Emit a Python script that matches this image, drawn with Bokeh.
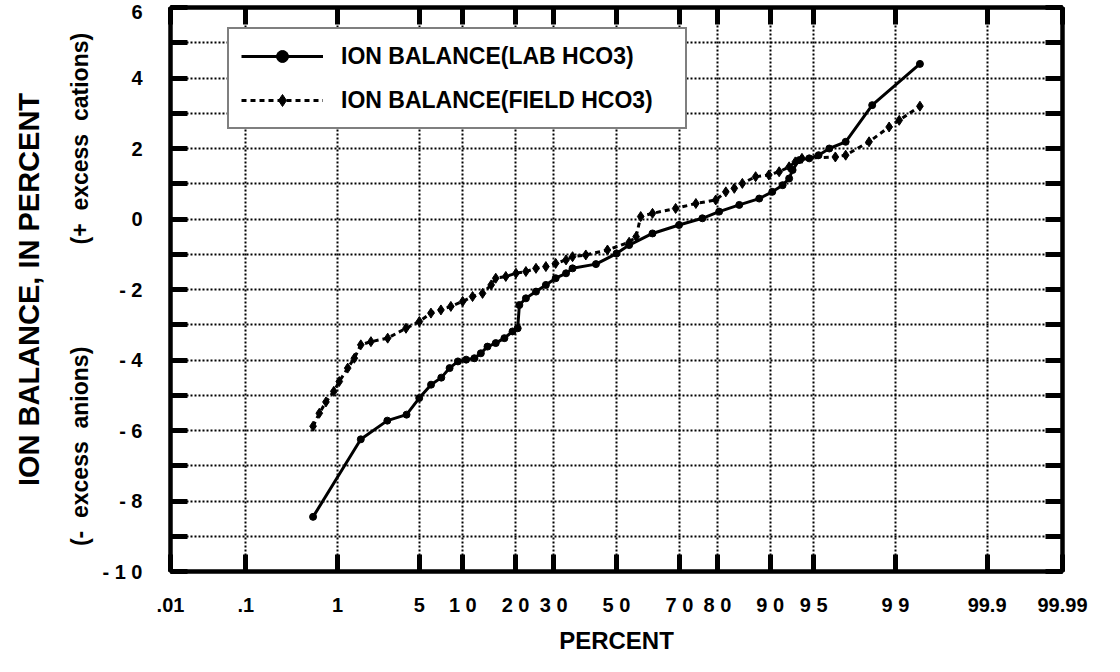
from statistics import NormalDist
from bokeh.plotting import figure
from bokeh.models import Range1d, FixedTicker, LinearAxis, Legend, LegendItem
from bokeh.embed import file_html
from bokeh.resources import INLINE

# ---------------- data ----------------
tick_pcts = [0.01, 0.1, 1, 5, 10, 20, 30, 50, 70, 80, 90, 95, 99, 99.9, 99.99]
tick_labels = [".01", ".1", "1", "5", "1 0", "2 0", "3 0", "5 0", "7 0", "8 0",
               "9 0", "9 5", "9 9", "99.9", "99.99"]
y_major = [-10, -8, -6, -4, -2, 0, 2, 4, 6]
y_minor = [-9, -7, -5, -3, -1, 1, 3, 5]
y_tick_labels = ["- 1 0", "- 8", "- 6", "- 4", "- 2", "0", "2", "4", "6"]

lab_pct = [0.57, 1.65, 2.8, 4.0, 5.0, 6.1, 7.2, 8.2, 9.3, 10.5,
           11.8, 12.9, 14.1, 15.7, 17.5, 19.3, 20.5, 20.9, 22.5, 25.1,
           27.8, 30.6, 33.7, 35.7, 43.2, 50.0, 54.2, 61.8, 69.9, 76.3,
           80.4, 84.7, 88.3, 90.3, 91.7, 92.5, 92.9, 93.6, 94.6, 95.4,
           96.2, 97.2, 98.35, 99.43]
lab_val = [-8.45, -6.25, -5.72, -5.55, -5.08, -4.70, -4.50, -4.23, -4.04, -3.99,
           -3.95, -3.81, -3.62, -3.52, -3.38, -3.19, -3.10, -2.44, -2.25, -2.06,
           -1.87, -1.68, -1.54, -1.40, -1.28, -0.98, -0.74, -0.41, -0.17, 0.02,
           0.21, 0.40, 0.58, 0.77, 0.96, 1.15, 1.39, 1.67, 1.72, 1.81,
           2.00, 2.19, 3.23, 4.40]

field_pct = [0.57, 0.66, 0.77, 0.92, 1.04, 1.25, 1.44, 1.65, 2.03, 2.82,
             3.96, 5.01, 6.09, 7.16, 8.36, 9.98, 11.5, 13.2, 14.8, 15.7,
             17.8, 20.1, 22.5, 25.1, 27.8, 30.6, 33.7, 35.7, 39.9, 47.0,
             54.2, 56.5, 58.0, 61.8, 68.9, 74.6, 79.6, 81.9, 83.7, 85.3,
             87.7, 89.8, 91.25, 92.5, 93.2, 93.9, 96.6, 97.2, 98.24, 98.85,
             99.08, 99.43]
field_val = [-5.88, -5.51, -5.19, -4.89, -4.61, -4.23, -3.95, -3.57, -3.48, -3.38,
             -3.10, -2.91, -2.67, -2.58, -2.48, -2.34, -2.20, -2.11, -1.87, -1.68,
             -1.63, -1.54, -1.49, -1.40, -1.35, -1.26, -1.16, -1.07, -1.02, -0.88,
             -0.66, -0.50, 0.07, 0.16, 0.30, 0.44, 0.54, 0.77, 0.87, 1.01,
             1.20, 1.25, 1.34, 1.48, 1.62, 1.72, 1.76, 1.81, 2.19, 2.61,
             2.80, 3.20]

series_names = ["ION BALANCE(LAB HCO3)", "ION BALANCE(FIELD HCO3)"]

# ---------------- normal-probability scale ----------------
nd = NormalDist()


def prob_scale(pcts):
    return [nd.inv_cdf(p / 100.0) for p in pcts]


tick_z = prob_scale(tick_pcts)
lab_z = prob_scale(lab_pct)
field_z = prob_scale(field_pct)

FONT = "Liberation Sans"
TICK_LEN = 17
TICK_W = 5

p = figure(width=1104, height=656, output_backend="svg", toolbar_location=None,
           x_range=Range1d(tick_z[0] - 1e-6, tick_z[-1] + 1e-6),
           y_range=Range1d(min(y_major), max(y_major)),
           min_border_left=170, min_border_right=42, min_border_top=7,
           min_border_bottom=82, background_fill_color="white",
           border_fill_color="white")

p.outline_line_color = "black"
p.outline_line_width = 4

# grid
p.xgrid.ticker = FixedTicker(ticks=tick_z[1:-1])
p.ygrid.ticker = FixedTicker(ticks=sorted(y_major[1:-1] + y_minor))
for g in (p.xgrid, p.ygrid):
    g.grid_line_color = "black"
    g.grid_line_width = 2
    g.grid_line_dash = "2 2"


def style_axis(ax):
    ax.axis_line_color = "black"
    ax.axis_line_width = 4
    for kind in ("major", "minor"):
        setattr(ax, kind + "_tick_line_color", "black")
        setattr(ax, kind + "_tick_line_width", TICK_W)
        setattr(ax, kind + "_tick_in", TICK_LEN)
        setattr(ax, kind + "_tick_out", 0)
    ax.major_label_text_font = FONT
    ax.major_label_text_font_style = "bold"
    ax.major_label_text_color = "black"
    ax.axis_label_text_font = FONT
    ax.axis_label_text_font_style = "bold"
    ax.axis_label_text_color = "black"


# bottom axis
xb = p.xaxis[0]
xb.ticker = FixedTicker(ticks=tick_z)
xb.major_label_overrides = {z: lab for z, lab in zip(tick_z, tick_labels)}
style_axis(xb)
xb.major_label_text_font_size = "20px"
xb.major_label_standoff = 22
xb.axis_label = "PERCENT"
xb.axis_label_text_font_size = "24px"
xb.axis_label_standoff = 8

# top axis: tick marks only
xt = LinearAxis(ticker=FixedTicker(ticks=[], minor_ticks=tick_z))
style_axis(xt)
p.add_layout(xt, "above")

# left axis
yl = p.yaxis[0]
yl.ticker = FixedTicker(ticks=y_major, minor_ticks=y_minor)
yl.major_label_overrides = {t: s for t, s in zip(y_major, y_tick_labels)}
style_axis(yl)
yl.major_label_text_font_size = "20px"
yl.major_label_standoff = 28
yl.major_label_text_baseline = "hanging"
yl.axis_label = ("(-\u00a0 excess\u00a0 anions)" + "\u00a0" * 16 +
                 "(+\u00a0 excess\u00a0 cations)")
yl.axis_label_text_font_size = "23px"
yl.axis_label_standoff = 6

# outer left axis carrying the main title
yt = LinearAxis(ticker=FixedTicker(ticks=[]))
yt.axis_line_color = None
yt.major_tick_line_color = None
yt.minor_tick_line_color = None
yt.axis_label = "ION BALANCE, IN PERCENT"
yt.axis_label_text_font = FONT
yt.axis_label_text_font_style = "bold"
yt.axis_label_text_font_size = "29px"
yt.axis_label_text_color = "black"
yt.axis_label_standoff = 20
p.add_layout(yt, "left")

# right axis: tick marks only
yr = LinearAxis(ticker=FixedTicker(ticks=[], minor_ticks=sorted(y_major + y_minor)))
style_axis(yr)
p.add_layout(yr, "right")

# series
l1 = p.line(lab_z, lab_val, line_color="black", line_width=3)
s1 = p.scatter(lab_z, lab_val, marker="circle", size=7, color="black")
l2 = p.line(field_z, field_val, line_color="black", line_width=3, line_dash="5 4")
s2 = p.scatter(field_z, field_val, marker="diamond", size=10, color="black")

legend = Legend(items=[LegendItem(label=series_names[0], renderers=[l1, s1]),
                       LegendItem(label=series_names[1], renderers=[l2, s2])],
                location=(57, 442))
legend.border_line_color = "black"
legend.border_line_width = 2
legend.background_fill_color = "white"
legend.background_fill_alpha = 1
legend.padding = 12
legend.spacing = 14
legend.margin = 0
legend.glyph_width = 82
legend.glyph_height = 30
legend.label_standoff = 18
legend.label_width = 332
legend.label_height = 30
legend.label_text_font = FONT
legend.label_text_font_style = "bold"
legend.label_text_font_size = "23px"
legend.label_text_color = "black"
p.add_layout(legend)

open("out.html", "w").write(file_html(p, INLINE))
